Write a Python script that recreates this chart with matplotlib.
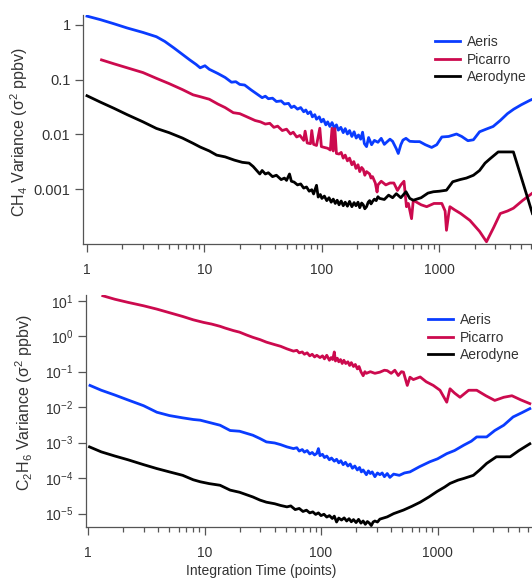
import numpy as np
import matplotlib
matplotlib.use("Agg")
import matplotlib.pyplot as plt
from matplotlib.ticker import FixedLocator, LogLocator, NullFormatter, NullLocator, LogFormatterSciNotation

plt.rcParams['font.family'] = ['Liberation Sans', 'DejaVu Sans']
plt.rcParams['mathtext.default'] = 'regular'

# (integration time, variance)
ch4_aeris = np.array([
    [1.0, 1.45], [1.3, 1.25], [1.7, 1.05], [2.2, 0.88], [3.0, 0.73], [3.9, 0.61],
    [4.6, 0.50], [5.5, 0.38], [6.5, 0.29], [7.5, 0.23], [8.5, 0.19], [9.2, 0.165],
    [10.1, 0.18], [11, 0.155], [13, 0.13], [15, 0.11], [17, 0.09], [18.5, 0.092],
    [20, 0.082], [22, 0.08], [25, 0.065], [29, 0.052], [31, 0.047], [33, 0.050],
    [35, 0.045], [38, 0.046], [41, 0.040], [45, 0.041], [48, 0.036], [52, 0.037],
    [55, 0.031], [58, 0.033], [62, 0.029], [66, 0.031], [70, 0.026], [73, 0.028],
    [76, 0.024], [80, 0.026], [83, 0.021], [87, 0.023], [90, 0.019], [95, 0.021],
    [99, 0.017], [103, 0.019], [108, 0.015], [112, 0.017], [117, 0.014], [122, 0.0165],
    [128, 0.013], [133, 0.015], [138, 0.012], [145, 0.0135], [152, 0.0108],
    [158, 0.0128], [165, 0.0102], [172, 0.0118], [180, 0.0092], [188, 0.0112],
    [196, 0.0086], [205, 0.0098], [214, 0.0082], [222, 0.0110], [230, 0.0068],
    [240, 0.0060], [250, 0.0088], [265, 0.0065], [280, 0.0078], [300, 0.0072],
    [320, 0.0085], [340, 0.0066], [360, 0.0074], [380, 0.0082], [400, 0.0075],
    [430, 0.0055], [447, 0.0045], [470, 0.0065], [490, 0.0079], [520, 0.0085],
    [560, 0.0075], [620, 0.0074], [680, 0.0074], [760, 0.0065], [860, 0.0058],
    [950, 0.0065], [1050, 0.0090], [1200, 0.0092], [1400, 0.0102], [1550, 0.0092],
    [1750, 0.0077], [1950, 0.0080], [2200, 0.0112], [2500, 0.0125], [2870, 0.0140],
    [3300, 0.0180], [3800, 0.024], [4300, 0.029], [5000, 0.035], [5900, 0.042],
    [6200, 0.044],
])

ch4_picarro = np.array([
    [1.33, 0.23], [1.7, 0.195], [2.2, 0.165], [3.0, 0.135], [3.9, 0.106], [5, 0.085],
    [6.5, 0.066], [8, 0.053], [9.2, 0.049], [11, 0.044], [13, 0.036], [15, 0.031],
    [17.6, 0.025], [20, 0.024], [23, 0.021], [27, 0.018], [30, 0.017], [33, 0.0155],
    [36, 0.0160], [39, 0.0135], [42, 0.0142], [46, 0.0118], [50, 0.0125], [54, 0.0102],
    [57, 0.0110], [61, 0.0090], [65, 0.0096], [70, 0.0078], [72, 0.0115],
    [75, 0.0070], [80, 0.0068], [82, 0.0118], [85, 0.0066], [90, 0.0063], [96, 0.0130],
    [99, 0.0060], [105, 0.0058], [112, 0.0056], [118, 0.0052], [122, 0.0130],
    [125, 0.0050], [129, 0.0128], [133, 0.0045], [140, 0.0044], [146, 0.0047],
    [152, 0.0037], [158, 0.0042], [165, 0.0033], [172, 0.0037], [180, 0.0028],
    [187, 0.0032], [195, 0.0024], [203, 0.0028], [210, 0.0021], [218, 0.0025],
    [225, 0.0023], [232, 0.0018], [240, 0.0021], [255, 0.0019], [262, 0.0016],
    [270, 0.0017], [285, 0.0013], [295, 0.00089], [300, 0.0012], [320, 0.0014],
    [350, 0.0012], [380, 0.0013], [410, 0.0013], [440, 0.00095], [470, 0.0012],
    [500, 0.0014], [525, 0.00048], [545, 0.00055], [580, 0.00029], [600, 0.00063],
    [640, 0.00058], [700, 0.00052], [780, 0.00048], [900, 0.00055], [1050, 0.00055],
    [1120, 0.00040], [1150, 0.000178], [1200, 0.00035], [1230, 0.00048], [1350, 0.00042],
    [1520, 0.00036], [1820, 0.00027], [2200, 0.00017], [2520, 0.00011], [2900, 0.00020],
    [3300, 0.00036], [3800, 0.00040], [4270, 0.00045], [5100, 0.00062], [6200, 0.00085],
])

ch4_aerodyne = np.array([
    [1.0, 0.051], [1.3, 0.039], [1.7, 0.030], [2.2, 0.023], [3.0, 0.017], [3.9, 0.0129],
    [5, 0.0108], [6.5, 0.0086], [8, 0.0069], [9.2, 0.0059], [11, 0.0050], [12.7, 0.0042],
    [15, 0.0039], [18, 0.0034], [21, 0.0031], [24, 0.0030], [26, 0.0026], [29.6, 0.0019],
    [31, 0.0022], [33, 0.0019], [35, 0.0020], [38, 0.0017], [41, 0.0018], [45, 0.0015],
    [48, 0.0016], [50, 0.00145], [53, 0.0019], [55, 0.0014], [58, 0.00135], [62, 0.0012],
    [66, 0.00125], [70, 0.00105], [74, 0.0011], [78, 0.00092], [82, 0.00098],
    [85, 0.00082], [90, 0.00118], [93, 0.00072], [97, 0.00080], [100, 0.00068],
    [105, 0.00075], [110, 0.00062], [115, 0.00070], [120, 0.00058], [125, 0.00066],
    [130, 0.00055], [135, 0.00063], [140, 0.00052], [146, 0.00061], [152, 0.00050],
    [158, 0.00058], [165, 0.00049], [172, 0.00060], [180, 0.00048], [188, 0.00057],
    [195, 0.00050], [203, 0.00058], [210, 0.00046], [218, 0.00056], [225, 0.00052],
    [232, 0.00044], [240, 0.00048], [248, 0.00058], [255, 0.00062], [262, 0.00054],
    [270, 0.00060], [280, 0.00066], [290, 0.00062], [300, 0.00073], [310, 0.00068],
    [340, 0.00065], [370, 0.00078], [400, 0.00070], [430, 0.00083], [470, 0.00070],
    [520, 0.00090], [560, 0.00068], [600, 0.00063], [700, 0.00070], [800, 0.00085],
    [890, 0.00090], [1000, 0.00092], [1150, 0.00096], [1300, 0.00137], [1500, 0.00150],
    [1700, 0.00160], [1950, 0.0018], [2200, 0.0022], [2450, 0.0030], [2700, 0.0036],
    [3170, 0.0048], [3700, 0.0048], [4270, 0.0048], [5500, 0.00083], [6200, 0.00036],
])

c2h6_aeris = np.array([
    [1.04, 0.041], [1.3, 0.030], [1.7, 0.022], [2.2, 0.016], [3.0, 0.011], [3.9, 0.0072],
    [5, 0.0058], [6.5, 0.0050], [8, 0.0045], [9.2, 0.0043], [11, 0.0037], [13.6, 0.0031],
    [16.6, 0.0022], [20, 0.0021], [26, 0.00162], [30, 0.0013], [34, 0.00105],
    [40, 0.00098], [45, 0.00088], [51, 0.00076], [58, 0.00068], [62, 0.00072],
    [65, 0.00058], [69, 0.00064], [72, 0.00054], [76, 0.00060], [80, 0.00048],
    [84, 0.00053], [88, 0.00045], [92, 0.00050], [95, 0.00068], [98, 0.00043],
    [103, 0.00047], [107, 0.00038], [112, 0.00042], [118, 0.00033], [123, 0.00037],
    [130, 0.00030], [136, 0.00034], [142, 0.00027], [148, 0.00031], [155, 0.00024],
    [162, 0.00028], [170, 0.00022], [178, 0.00025], [186, 0.00019], [195, 0.00022],
    [205, 0.00017], [214, 0.00020], [222, 0.00015], [230, 0.00017], [245, 0.000125],
    [255, 0.00016], [265, 0.000135], [275, 0.00015], [290, 0.00011], [305, 0.00014],
    [320, 0.000125], [335, 0.00014], [350, 0.00011], [370, 0.000135], [390, 0.000105],
    [420, 0.00013], [470, 0.00012], [520, 0.00014], [580, 0.00015],
    [700, 0.00021], [860, 0.00029], [1000, 0.00035], [1200, 0.00049], [1400, 0.00060],
    [1680, 0.00085], [1950, 0.0011], [2170, 0.00145], [2640, 0.00145], [3100, 0.0022],
    [3700, 0.0031], [4450, 0.0053], [5300, 0.0070], [6200, 0.0091],
])

c2h6_picarro = np.array([
    [1.34, 13.8], [1.7, 11], [2.2, 9.0], [3.0, 7.2], [3.9, 5.8], [5, 4.6], [6.5, 3.6],
    [8, 2.9], [9.8, 2.45], [11.5, 2.2], [13.6, 1.9], [15, 1.7], [17.7, 1.44], [20, 1.3],
    [23, 1.08], [26, 0.93], [30, 0.80], [34, 0.68], [40, 0.58], [45, 0.52], [51, 0.44],
    [58, 0.38], [62, 0.40], [65, 0.34], [69, 0.36], [72, 0.31], [76, 0.34], [80, 0.28],
    [84, 0.31], [88, 0.26], [92, 0.29], [98, 0.25], [103, 0.28], [107, 0.23],
    [112, 0.29], [118, 0.21], [122, 0.25], [126, 0.22], [130, 0.36], [133, 0.20],
    [138, 0.24], [142, 0.19], [147, 0.22], [152, 0.17], [157, 0.21], [163, 0.17],
    [170, 0.19], [176, 0.15], [182, 0.18], [190, 0.14], [197, 0.16], [205, 0.12],
    [212, 0.14], [220, 0.10], [230, 0.077], [238, 0.10], [245, 0.09], [265, 0.10],
    [290, 0.090], [320, 0.097], [350, 0.110], [370, 0.107], [400, 0.090], [430, 0.110],
    [460, 0.078], [490, 0.100], [510, 0.097], [550, 0.041], [580, 0.070], [620, 0.060],
    [710, 0.071], [800, 0.052], [920, 0.041], [1050, 0.030], [1200, 0.0138],
    [1280, 0.033], [1400, 0.025], [1560, 0.019], [1850, 0.030], [2170, 0.030],
    [2600, 0.021], [3100, 0.0155], [3700, 0.019], [4350, 0.021], [5200, 0.016],
    [6200, 0.0126],
])

c2h6_aerodyne = np.array([
    [1.03, 7.6e-4], [1.3, 5.5e-4], [1.7, 4.2e-4], [2.2, 3.3e-4], [3.0, 2.4e-4],
    [3.9, 1.86e-4], [5, 1.5e-4], [6.5, 1.2e-4], [8, 9.0e-5], [9.2, 7.9e-5], [11, 7.0e-5],
    [13.6, 6.3e-5], [16.6, 4.6e-5], [20, 4.0e-5], [23, 3.4e-5], [26, 2.95e-5],
    [30, 2.4e-5], [34, 2.1e-5], [40, 1.9e-5], [45, 1.7e-5], [51, 1.55e-5], [55, 1.65e-5],
    [60, 1.3e-5], [65, 1.4e-5], [70, 1.15e-5], [75, 1.25e-5], [80, 1.05e-5],
    [85, 1.12e-5], [90, 9.5e-6], [95, 1.05e-5], [100, 8.8e-6], [106, 9.6e-6],
    [112, 8.0e-6], [118, 8.8e-6], [125, 7.3e-6], [130, 8.5e-6], [136, 5.8e-6],
    [142, 7.5e-6], [150, 6.6e-6], [158, 7.6e-6], [166, 6.2e-6], [174, 7.2e-6],
    [182, 5.9e-6], [190, 6.8e-6], [200, 5.6e-6], [210, 6.9e-6], [220, 5.4e-6],
    [230, 6.2e-6], [240, 5.0e-6], [250, 6.0e-6], [260, 5.4e-6], [270, 4.6e-6],
    [280, 5.8e-6], [290, 6.2e-6], [305, 5.8e-6], [320, 7.0e-6], [370, 8.1e-6],
    [420, 1.0e-5], [510, 1.26e-5], [600, 1.6e-5], [710, 2.1e-5], [850, 3.0e-5],
    [990, 4.2e-5], [1150, 5.6e-5], [1280, 7.1e-5], [1500, 8.8e-5], [1680, 9.8e-5],
    [2030, 1.2e-4], [2300, 1.7e-4], [2640, 2.6e-4], [3200, 4.0e-4], [3700, 4.0e-4],
    [4200, 4.0e-4], [5000, 6.0e-4], [6200, 9.3e-4],
])

labels = ['Aeris', 'Picarro', 'Aerodyne']
colors = ['#0a3cff', '#cc0a4e', '#000000']
ch4_yticks = [1, 0.1, 0.01, 0.001]
ch4_yticklabels = ['1', '0.1', '0.01', '0.001']
c2h6_yticks = [1e1, 1e0, 1e-1, 1e-2, 1e-3, 1e-4, 1e-5]
xticks = [1, 10, 100, 1000]
xticklabels = ['1', '10', '100', '1000']

W, H = 532, 578
fig = plt.figure(figsize=(W / 100, H / 100), dpi=100)
ax1 = fig.add_axes([83 / W, 1 - 244 / H, 1 - 83 / W, 229 / H])
ax2 = fig.add_axes([86 / W, 1 - 527 / H, 1 - 86 / W, 232 / H])

txt_col = '#333333'
for ax, series in [(ax1, [ch4_aeris, ch4_picarro, ch4_aerodyne]),
                   (ax2, [c2h6_aeris, c2h6_picarro, c2h6_aerodyne])]:
    for d, lab, c in zip(series, labels, colors):
        ax.plot(d[:, 0], d[:, 1], color=c, lw=2.0, label=lab, solid_joinstyle='round')
    ax.set_xscale('log')
    ax.set_yscale('log')
    for s in ['top', 'right']:
        ax.spines[s].set_visible(False)
    for s in ['left', 'bottom']:
        ax.spines[s].set_color('#555555')
        ax.spines[s].set_linewidth(0.9)
    ax.xaxis.set_major_locator(FixedLocator(xticks))
    ax.set_xticklabels(xticklabels)
    ax.xaxis.set_minor_locator(LogLocator(base=10, subs=np.arange(2, 10)))
    ax.xaxis.set_minor_formatter(NullFormatter())
    ax.yaxis.set_minor_locator(NullLocator())
    ax.tick_params(axis='both', which='major', length=6, width=0.9, color='#555555',
                   labelsize=10, labelcolor=txt_col, pad=3)
    ax.tick_params(axis='x', which='minor', length=3.5, width=0.9, color='#555555')
    ax.tick_params(axis='x', which='major', pad=8)
    ax.legend(frameon=False, fontsize=10, handlelength=1.8, handletextpad=0.5,
              labelspacing=0.26, borderpad=0, borderaxespad=0, loc='upper left',
              bbox_to_anchor=(435 / W, 1 - 35 / H) if ax is ax1 else (428 / W, 1 - 313 / H),
              bbox_transform=fig.transFigure, labelcolor=txt_col)

ax1.set_xlim(0.925, 6150)
ax1.set_ylim(1e-4, 1.52)
ax1.yaxis.set_major_locator(FixedLocator(ch4_yticks))
ax1.set_yticklabels(ch4_yticklabels)
ax1.tick_params(axis='y', labelsize=10.5)

ax2.set_xlim(0.961, 6470)
ax2.set_ylim(4.2e-6, 14.5)
ax2.yaxis.set_major_locator(FixedLocator(c2h6_yticks))
ax2.yaxis.set_major_formatter(LogFormatterSciNotation())

fig.text(19 / W, 1 - 132 / H, 'CH$_4$ Variance ($\\sigma^2$ ppbv)', rotation=90,
         ha='center', va='center', fontsize=11.5, color=txt_col)
fig.text(24 / W, 1 - 403 / H, 'C$_2$H$_6$ Variance ($\\sigma^2$ ppbv)', rotation=90,
         ha='center', va='center', fontsize=11.5, color=txt_col)
fig.text(261 / W, 1 - 571 / H, 'Integration Time (points)', ha='center', va='center',
         fontsize=10, color=txt_col)

fig.savefig('out.png', dpi=100)
